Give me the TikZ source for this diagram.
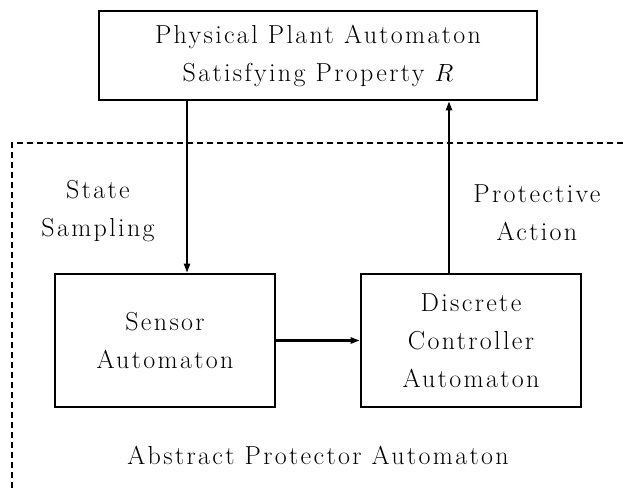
\documentclass[tikz,border=0pt]{standalone}
\usepackage{fontspec}
\setmainfont{Latin Modern Roman}[LetterSpace=9]
\usetikzlibrary{arrows.meta}
\tikzset{
  txt/.style={align=center, font=\fontsize{26}{38}\selectfont, inner sep=0pt},
  box/.style={txt, draw, line width=2.6pt, minimum width=#1},
  conn/.style={line width=2pt, -{Triangle[length=9pt,width=6pt]}},
  dashbound/.style={line width=2pt, dash pattern=on 6pt off 4pt}
}
\begin{document}
\begin{tikzpicture}[x=1pt,y=-1pt]
\useasboundingbox (0,0) rectangle (623,489);
\node[box=438, minimum height=89] (plant) at (318,55.5) {Physical Plant Automaton\\Satisfying Property $R$};
\node[box=220, minimum height=133] (sensor) at (165,340.5) {Sensor\\Automaton};
\node[box=220, minimum height=133] (ctrl) at (471,340.5) {Discrete\\Controller\\Automaton};
\node[txt] (ss) at (98,211.5) {State\\Sampling};
\node[txt] (pa) at (537,212.5) {Protective\\Action};
\node[txt] (apa) at (318,455) {Abstract Protector Automaton};
\coordinate (xa) at (187,0);
\coordinate (xb) at (449,0);
\coordinate (d1) at (623,143);
\coordinate (d2) at (12,143);
\coordinate (d3) at (12,489);
\draw[dashbound] (d1) -- (d2) -- (d3);
\draw[conn] (plant.south -| xa) -- (sensor.north -| xa);
\draw[conn] (ctrl.north -| xb) -- (plant.south -| xb);
\draw[conn, line width=2.6pt] (sensor.east) -- (ctrl.west);
\end{tikzpicture}
\end{document}
